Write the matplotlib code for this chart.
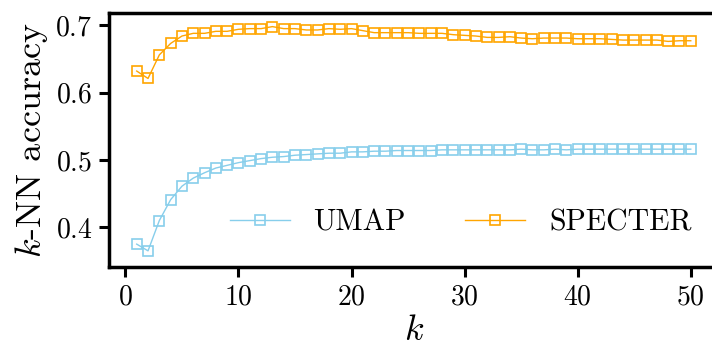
"""k-NN accuracy vs k for UMAP and SPECTER embeddings."""

import matplotlib

matplotlib.use("Agg")
import matplotlib.pyplot as plt
import numpy as np

plt.rcParams["font.family"] = "serif"
plt.rcParams["font.serif"] = ["cmr10"]
plt.rcParams["mathtext.fontset"] = "cm"
plt.rcParams["axes.formatter.use_mathtext"] = True

k_values = np.arange(1, 51)

umap_acc = [
    0.375, 0.365, 0.410, 0.441, 0.461, 0.473, 0.481, 0.488, 0.492, 0.496,
    0.499, 0.502, 0.504, 0.505, 0.507, 0.508, 0.509, 0.510, 0.510, 0.512,
    0.512, 0.513, 0.513, 0.514, 0.514, 0.514, 0.514, 0.515, 0.515, 0.515,
    0.515, 0.515, 0.515, 0.515, 0.516, 0.515, 0.515, 0.516, 0.515, 0.516,
    0.516, 0.516, 0.516, 0.516, 0.516, 0.516, 0.516, 0.516, 0.516, 0.516,
]

specter_acc = [
    0.632, 0.621, 0.656, 0.673, 0.684, 0.688, 0.688, 0.691, 0.691, 0.694,
    0.695, 0.695, 0.698, 0.695, 0.695, 0.693, 0.693, 0.695, 0.694, 0.695,
    0.692, 0.689, 0.689, 0.689, 0.689, 0.688, 0.688, 0.688, 0.686, 0.685,
    0.684, 0.682, 0.682, 0.683, 0.681, 0.680, 0.681, 0.681, 0.681, 0.680,
    0.680, 0.680, 0.679, 0.678, 0.678, 0.678, 0.678, 0.676, 0.677, 0.677,
]

fig = plt.figure(figsize=(7.12, 3.47), dpi=100)
ax = fig.add_axes([0.1531, 0.2305, 0.856, 0.733])

style = dict(marker="s", markersize=7, markerfacecolor="none",
             markeredgewidth=1.2, linewidth=1.0)
ax.plot(k_values, umap_acc, color="#87CEEB", label="UMAP", **style)
ax.plot(k_values, specter_acc, color="#FFA500", label="SPECTER", **style)

ax.set_ylim(0.341, 0.7187)
ax.set_yticks([0.4, 0.5, 0.6, 0.7])
ax.set_xticks([0, 10, 20, 30, 40, 50])
ax.set_xlabel(r"$k$", fontsize=26, labelpad=4)
ax.set_ylabel(r"$k$-NN accuracy", fontsize=26, labelpad=4)
ax.tick_params(labelsize=20, length=7, width=2.2, pad=5)
for s in ax.spines.values():
    s.set_linewidth(2.5)

ax.legend(loc="lower right", ncol=2, frameon=False, fontsize=21.5,
          bbox_to_anchor=(1.0, 0.015))

fig.savefig("out.png", dpi=100)
